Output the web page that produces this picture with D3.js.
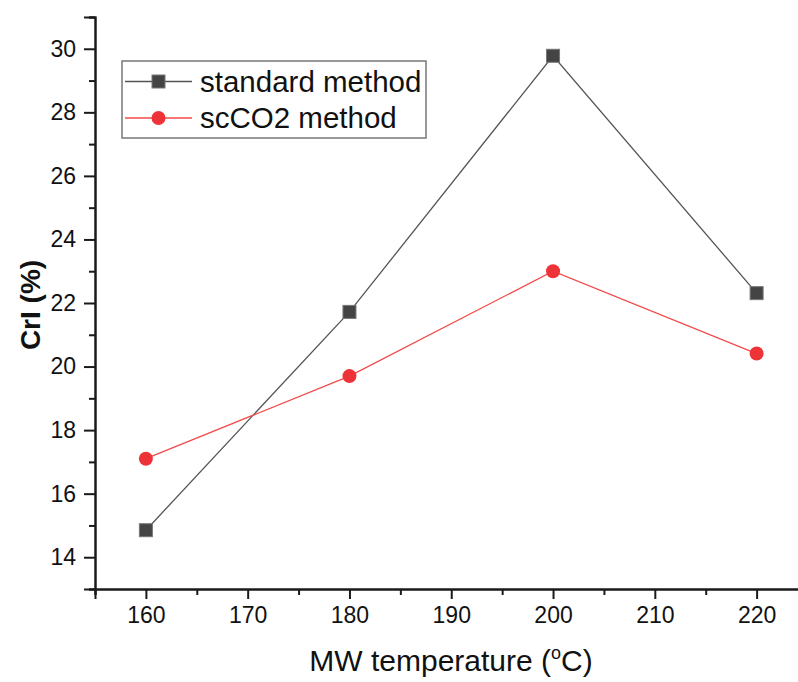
<!DOCTYPE html>
<html>
<head>
<meta charset="utf-8">
<script src="https://cdn.jsdelivr.net/npm/d3@7"></script>
<style>
  body { margin: 0; background: #fff; }
  text { font-family: Arial, "Liberation Sans", sans-serif; fill: #111; }
</style>
</head>
<body>
<svg id="chart" width="798" height="682"></svg>
<script>
// values
const temps = [160, 180, 200, 220];
const standardVals = [14.85, 21.72, 29.78, 22.31];
const scco2Vals = [17.1, 19.7, 23.0, 20.41];
const xTicks = [160, 170, 180, 190, 200, 210, 220];
const xMinor = [155, 165, 175, 185, 195, 205, 215, 225];
const yTicks = [14, 16, 18, 20, 22, 24, 26, 28, 30];
const yMinor = [13, 15, 17, 19, 21, 23, 25, 27, 29, 31];
const seriesNames = ["standard method", "scCO2 method"];

var svg = d3.select("#chart");
var x = d3.scaleLinear().domain([155, 225]).range([95, 807.5]);
var y = d3.scaleLinear().domain([13, 31]).range([589, 17]);

const axisColor = "#1a1a1a";

// x axis
var gx = svg.append("g").attr("transform", "translate(0,589)");
gx.call(d3.axisBottom(x).tickValues(xTicks).tickSize(10).tickPadding(8).tickFormat(d3.format("d")));
gx.append("g").call(d3.axisBottom(x).tickValues(xMinor).tickSize(6).tickFormat(""));
gx.selectAll(".domain").attr("stroke", axisColor).attr("stroke-width", 2);
gx.selectAll(".tick line").attr("stroke", axisColor).attr("stroke-width", 2);
gx.selectAll(".tick text").attr("font-size", 23).attr("font-family", "Arial, 'Liberation Sans', sans-serif").attr("fill", "#111");

// y axis
var gy = svg.append("g").attr("transform", "translate(95,0)");
gy.call(d3.axisLeft(y).tickValues(yTicks).tickSize(11).tickPadding(8).tickFormat(d3.format("d")));
gy.append("g").call(d3.axisLeft(y).tickValues(yMinor).tickSize(6).tickFormat(""));
gy.selectAll(".domain").attr("stroke", axisColor).attr("stroke-width", 2);
gy.selectAll(".tick line").attr("stroke", axisColor).attr("stroke-width", 2);
gy.selectAll(".tick text").attr("font-size", 23).attr("font-family", "Arial, 'Liberation Sans', sans-serif").attr("fill", "#111");

// axis titles
var xt = svg.append("text")
    .attr("x", 451).attr("y", 671)
    .attr("text-anchor", "middle")
    .attr("font-size", 30);
xt.append("tspan").text("MW temperature (");
xt.append("tspan").attr("font-size", 18).attr("dy", -12).text("o");
xt.append("tspan").attr("dy", 12).text("C)");

svg.append("text")
    .attr("transform", "translate(40,305) rotate(-90)")
    .attr("text-anchor", "middle")
    .attr("font-size", 28)
    .attr("font-weight", "bold")
    .text("CrI (%)");

// lines
var line = d3.line().x(d => x(d[0])).y(d => y(d[1]));
var stdData = temps.map((t, i) => [t, standardVals[i]]);
var scData = temps.map((t, i) => [t, scco2Vals[i]]);

svg.append("path").datum(stdData).attr("d", line)
    .attr("fill", "none").attr("stroke", "#555").attr("stroke-width", 1.3);
svg.append("path").datum(scData).attr("d", line)
    .attr("fill", "none").attr("stroke", "#f24a4a").attr("stroke-width", 1.3);

// markers
svg.selectAll(".sq").data(stdData).enter().append("rect")
    .attr("x", d => x(d[0]) - 6.5).attr("y", d => y(d[1]) - 6.5)
    .attr("width", 13).attr("height", 13)
    .attr("fill", "#444").attr("stroke", "#777").attr("stroke-width", 1);
svg.selectAll(".ci").data(scData).enter().append("circle")
    .attr("cx", d => x(d[0])).attr("cy", d => y(d[1])).attr("r", 7)
    .attr("fill", "#ee3338");

// legend
var lg = svg.append("g");
lg.append("rect").attr("x", 122).attr("y", 61).attr("width", 304).attr("height", 77)
    .attr("fill", "#fff").attr("stroke", "#777").attr("stroke-width", 1.5);
[0, 1].forEach(i => {
  var cy = i == 0 ? 81.5 : 118;
  lg.append("line").attr("x1", 125).attr("x2", 192).attr("y1", cy).attr("y2", cy)
      .attr("stroke", i == 0 ? "#555" : "#f24a4a").attr("stroke-width", 1.3);
  if (i == 0) {
    lg.append("rect").attr("x", 152).attr("y", cy - 6.5).attr("width", 13).attr("height", 13)
        .attr("fill", "#444").attr("stroke", "#777").attr("stroke-width", 1);
  } else {
    lg.append("circle").attr("cx", 158.5).attr("cy", cy).attr("r", 7).attr("fill", "#ee3338");
  }
  lg.append("text").attr("x", 200).attr("y", cy + 10)
      .attr("font-size", 29.5).text(seriesNames[i]);
});
</script>
</body>
</html>
